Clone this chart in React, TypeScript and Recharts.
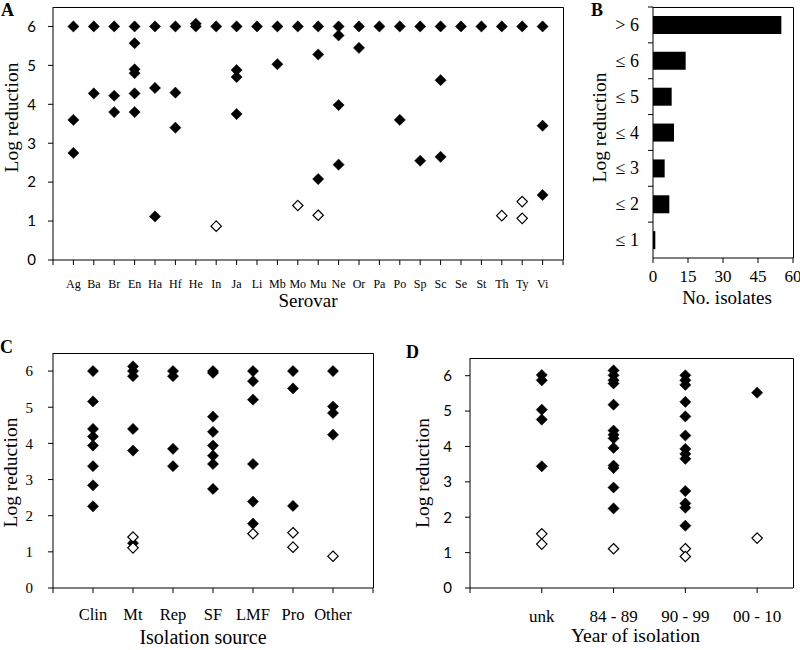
import React from "react";
import {
    ScatterChart, Scatter, BarChart, Bar, XAxis, YAxis, Label,
} from "recharts";

// panel A - log reduction per serovar
const serovars = ["Ag", "Ba", "Br", "En", "Ha", "Hf", "He", "In", "Ja", "Li", "Mb", "Mo",
    "Mu", "Ne", "Or", "Pa", "Po", "Sp", "Sc", "Se", "St", "Th", "Ty", "Vi"];
const serovarFilled = [
    [6, 3.6, 2.75], [6, 4.28], [6, 4.22, 3.8], [6, 5.57, 4.9, 4.8, 4.28, 3.8],
    [6, 4.42, 1.12], [6, 4.3, 3.4], [6.07, 6], [6], [6, 4.88, 4.7, 3.75], [6],
    [6, 5.03], [6], [6, 5.28, 2.08], [6, 5.77, 3.98, 2.45], [6, 5.45], [6],
    [6, 3.6], [6, 2.55], [6, 4.62, 2.65], [6], [6], [6], [6], [6, 3.45, 1.67],
];
const serovarOpen = [
    [], [], [], [], [], [], [], [0.87], [], [], [], [1.4],
    [1.15], [], [], [], [], [], [], [], [], [1.14], [1.5, 1.07], [],
];

// panel B - number of isolates per log reduction bin
const reductionBins = ["> 6", "≤ 6", "≤ 5", "≤ 4", "≤ 3", "≤ 2", "≤ 1"];
const isolateCounts = [55, 14, 8, 9, 5, 7, 1];

// panel C - isolation source
const sources = ["Clin", "Mt", "Rep", "SF", "LMF", "Pro", "Other"];
const sourceFilled = [
    [6, 5.16, 4.4, 4.19, 3.94, 3.37, 2.84, 2.26],
    [6.13, 6, 5.86, 4.4, 3.8, 1.24],
    [6, 5.86, 3.85, 3.37],
    [6, 5.95, 4.74, 4.32, 3.94, 3.66, 3.43, 2.74],
    [6, 5.72, 5.21, 3.43, 2.39, 1.78],
    [6, 5.52, 2.27],
    [6, 5.02, 4.84, 4.24],
];
const sourceOpen = [[], [1.41, 1.11], [], [], [1.5], [1.53, 1.13], [0.88]];

// panel D - year of isolation
const years = ["unk", "84 - 89", "90 - 99", "00 - 10"];
const yearFilled = [
    [6.02, 5.87, 5.04, 4.76, 3.44],
    [6.15, 6.01, 5.87, 5.78, 5.18, 4.45, 4.33, 4.23, 3.96, 3.46, 3.39, 2.84, 2.25],
    [6.01, 5.87, 5.74, 5.26, 4.85, 4.31, 3.93, 3.79, 3.65, 2.74, 2.39, 2.27, 1.76],
    [5.52],
];
const yearOpen = [[1.53, 1.24], [1.11], [1.11, 0.89], [1.41]];

const logTicks = [0, 1, 2, 3, 4, 5, 6];
const logMax = 6.5;

const serif = '"Liberation Serif", "Times New Roman", serif';
const sans = 'Lato, "Open Sans", sans-serif';

const toPoints = (groups: number[][]) =>
    groups.flatMap((vals, i) => vals.map((y) => ({ x: i + 1, y })));

const range = (n: number) => Array.from({ length: n + 1 }, (_, i) => i);

const diamond = (filled: boolean) => (props: any) => {
    const { cx, cy } = props;
    if (cx == null || cy == null) return <g />;
    const r = filled ? 5.6 : 5.2;
    return (
        <polygon
            points={`${cx},${cy - r} ${cx + r},${cy} ${cx},${cy + r} ${cx - r},${cy}`}
            fill={filled ? "#000" : "#fff"}
            stroke="#000"
            strokeWidth={filled ? 0.5 : 1.2}
        />
    );
};

const yTitle = (text: string, size: number, dx: number, dy: number) => (props: any) => {
    const vb = props.viewBox || {};
    const cx = vb.x + dx;
    const cy = vb.y + vb.height / 2 + dy;
    return (
        <text x={cx} y={cy} transform={`rotate(-90 ${cx} ${cy})`} textAnchor="middle"
            dominantBaseline="central" fontFamily={serif} fontSize={size} fill="#000">
            {text}
        </text>
    );
};

const xTitle = (text: string, size: number, fromBottom: number, dx: number) => (props: any) => {
    const vb = props.viewBox || {};
    return (
        <text x={vb.x + vb.width / 2 + dx} y={vb.y + vb.height - fromBottom} textAnchor="middle"
            fontFamily={serif} fontSize={size} fill="#000">
            {text}
        </text>
    );
};

// category label plus a tick mark on the boundary above it
const BinTick = (props: any) => {
    const { x, y, payload, textAnchor } = props;
    const half = payload && payload.offset ? payload.offset : 17.9;
    return (
        <g>
            <text x={x} y={y} textAnchor={textAnchor ?? "end"} dominantBaseline="central"
                fontFamily={serif} fontSize={18} fill="#000">
                {payload.value}
            </text>
            <line x1={x + 9} x2={x + 14} y1={y - half} y2={y - half} stroke="#000" strokeWidth={1} />
        </g>
    );
};

// top and right edges of a plot box
const Frame = ({ left, top, width, height }: { left: number; top: number; width: number; height: number }) => (
    <svg width={width + 2} height={height + 2}
        style={{ position: "absolute", left, top: top - 1, overflow: "visible", pointerEvents: "none" }}>
        <polyline points={`0,1.5 ${width + 0.5},1.5 ${width + 0.5},${height + 1}`} fill="none"
            stroke="#000" strokeWidth={1} />
    </svg>
);

const letterStyle: React.CSSProperties = {
    position: "absolute", fontFamily: serif, fontWeight: "bold", fontSize: 18, lineHeight: 1,
};

const App: React.FC = () => {
    return (
        <div style={{ position: "absolute", left: 0, top: 0, width: 800, height: 650, background: "#fff" }}>
            <div style={{ position: "absolute", left: 0, top: 0 }}>
                <ScatterChart width={570} height={310} margin={{ top: 7, right: 7, bottom: 0, left: 0 }}>
                    <XAxis type="number" dataKey="x" domain={[0, 25]} ticks={range(25)} interval={0}
                        tickFormatter={(v: number) => serovars[v - 1] ?? ""} height={50}
                        stroke="#000" tickSize={5} tickMargin={14}
                        tick={{ fill: "#000", fontFamily: serif, fontSize: 12 }}>
                        <Label content={xTitle("Serovar", 19, 3, 0)} />
                    </XAxis>
                    <YAxis type="number" dataKey="y" domain={[0, logMax]} ticks={logTicks} interval={0}
                        width={53} stroke="#000" tickSize={5} tickMargin={12}
                        tick={{ fill: "#000", fontFamily: sans, fontSize: 15 }}>
                        <Label content={yTitle("Log reduction", 19.5, 11, -16)} />
                    </YAxis>
                    <Scatter data={toPoints(serovarFilled)} shape={diamond(true)} isAnimationActive={false} />
                    <Scatter data={toPoints(serovarOpen)} shape={diamond(false)} isAnimationActive={false} />
                </ScatterChart>
            </div>

            <div style={{ position: "absolute", left: 570, top: 0 }}>
                <BarChart width={230} height={310} layout="vertical"
                    data={reductionBins.map((bin, i) => ({ bin, count: isolateCounts[i] }))}
                    margin={{ top: 7, right: 7, bottom: 0, left: 0 }}>
                    <XAxis type="number" domain={[0, 60]} ticks={[0, 15, 30, 45, 60]} interval={0}
                        height={52} stroke="#000" tickSize={5} tickMargin={7}
                        tick={{ fill: "#000", fontFamily: serif, fontSize: 17 }}>
                        <Label content={xTitle("No. isolates", 19, 6, 4)} />
                    </XAxis>
                    <YAxis type="category" dataKey="bin" width={83} stroke="#000" tickSize={5}
                        tickMargin={9} tickLine={false} interval={0} tick={<BinTick />}>
                        <Label content={yTitle("Log reduction", 19.5, 29, -5)} />
                    </YAxis>
                    <Bar dataKey="count" fill="#000" barSize={18} isAnimationActive={false} />
                </BarChart>
            </div>

            <div style={{ position: "absolute", left: 0, top: 330 }}>
                <ScatterChart width={400} height={320} margin={{ top: 23, right: 27, bottom: 0, left: 0 }}>
                    <XAxis type="number" dataKey="x" domain={[0, 8]} ticks={range(8)} interval={0}
                        tickFormatter={(v: number) => sources[v - 1] ?? ""} height={62}
                        stroke="#000" tickSize={5} tickMargin={15}
                        tick={{ fill: "#000", fontFamily: serif, fontSize: 16.5 }}>
                        <Label content={xTitle("Isolation source", 20, 6, -10)} />
                    </XAxis>
                    <YAxis type="number" dataKey="y" domain={[0, logMax]} ticks={logTicks} interval={0}
                        width={53} stroke="#000" tickSize={5} tickMargin={15}
                        tick={{ fill: "#000", fontFamily: serif, fontSize: 15 }}>
                        <Label content={yTitle("Log reduction", 19.5, 10, 2)} />
                    </YAxis>
                    <Scatter data={toPoints(sourceFilled)} shape={diamond(true)} isAnimationActive={false} />
                    <Scatter data={toPoints(sourceOpen)} shape={diamond(false)} isAnimationActive={false} />
                </ScatterChart>
            </div>

            <div style={{ position: "absolute", left: 400, top: 330 }}>
                <ScatterChart width={400} height={320} margin={{ top: 28, right: 7, bottom: 0, left: 0 }}>
                    <XAxis type="number" dataKey="x" domain={[0, 4.5]} ticks={range(4)} interval={0}
                        tickFormatter={(v: number) => years[v - 1] ?? ""} height={62}
                        stroke="#000" tickSize={5} tickMargin={17}
                        tick={{ fill: "#000", fontFamily: serif, fontSize: 17 }}>
                        <Label content={xTitle("Year of isolation", 19.5, 8, 4)} />
                    </XAxis>
                    <YAxis type="number" dataKey="y" domain={[0, logMax]} ticks={logTicks} interval={0}
                        width={70} stroke="#000" tickSize={5} tickMargin={13}
                        tick={{ fill: "#000", fontFamily: sans, fontSize: 15 }}>
                        <Label content={yTitle("Log reduction", 19.5, 22, 0)} />
                    </YAxis>
                    <Scatter data={toPoints(yearFilled)} shape={diamond(true)} isAnimationActive={false} />
                    <Scatter data={toPoints(yearOpen)} shape={diamond(false)} isAnimationActive={false} />
                </ScatterChart>
            </div>

            <Frame left={53} top={7} width={510} height={253} />
            <Frame left={653} top={7} width={140} height={251} />
            <Frame left={53} top={353} width={320} height={235} />
            <Frame left={470} top={358} width={323} height={230} />

            <div style={{ ...letterStyle, left: 1, top: 1 }}>A</div>
            <div style={{ ...letterStyle, left: 591, top: 1 }}>B</div>
            <div style={{ ...letterStyle, left: 0, top: 338 }}>C</div>
            <div style={{ ...letterStyle, left: 406, top: 343 }}>D</div>
        </div>
    );
};

export default App;
